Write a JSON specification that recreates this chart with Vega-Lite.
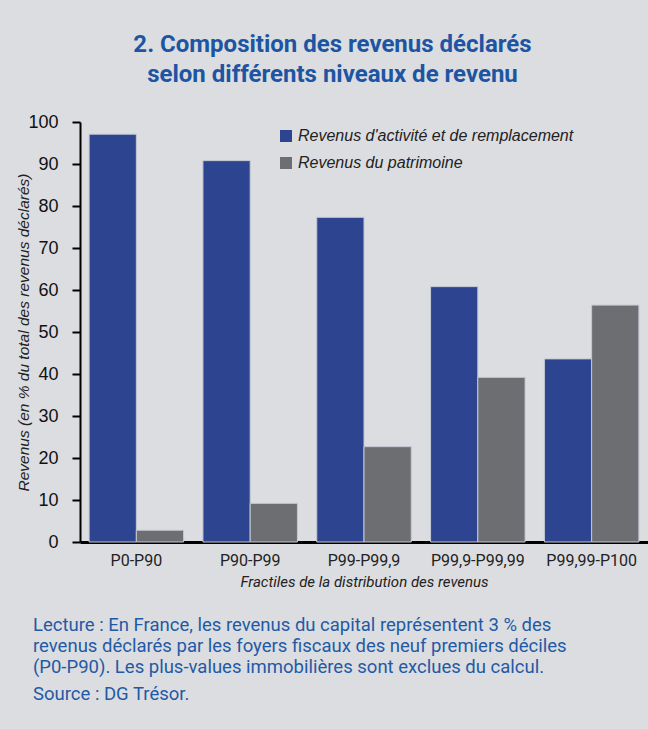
{
  "$schema": "https://vega.github.io/schema/vega-lite/v6.json",
  "background": "#dcdde0",
  "padding": {"left": 16, "top": 33, "right": 0, "bottom": 27},
  "title": {
    "text": ["2. Composition des revenus déclarés", "selon différents niveaux de revenu"],
    "anchor": "middle",
    "frame": "bounds",
    "font": "Roboto",
    "fontSize": 24,
    "fontWeight": "bold",
    "color": "#1d55a3",
    "lineHeight": 30,
    "offset": 26
  },
  "config": {"view": {"stroke": null}},
  "vconcat": [
    {
      "width": 568,
      "height": 420,
      "data": {
        "values": [
          {"fractile": "P0-P90", "type": "Revenus d'activité et de remplacement", "value": 97.1},
          {"fractile": "P0-P90", "type": "Revenus du patrimoine", "value": 2.8},
          {"fractile": "P90-P99", "type": "Revenus d'activité et de remplacement", "value": 90.8},
          {"fractile": "P90-P99", "type": "Revenus du patrimoine", "value": 9.2},
          {"fractile": "P99-P99,9", "type": "Revenus d'activité et de remplacement", "value": 77.3},
          {"fractile": "P99-P99,9", "type": "Revenus du patrimoine", "value": 22.7},
          {"fractile": "P99,9-P99,99", "type": "Revenus d'activité et de remplacement", "value": 60.8},
          {"fractile": "P99,9-P99,99", "type": "Revenus du patrimoine", "value": 39.2},
          {"fractile": "P99,99-P100", "type": "Revenus d'activité et de remplacement", "value": 43.6},
          {"fractile": "P99,99-P100", "type": "Revenus du patrimoine", "value": 56.4}
        ]
      },
      "title": {
        "text": [
          "Lecture : En France, les revenus du capital représentent 3 % des",
          "revenus déclarés par les foyers fiscaux des neuf premiers déciles",
          "(P0-P90). Les plus-values immobilières sont exclues du calcul."
        ],
        "subtitle": "Source : DG Trésor.",
        "orient": "bottom",
        "anchor": "start",
        "frame": "bounds",
        "font": "Roboto",
        "fontSize": 18.5,
        "fontWeight": "normal",
        "color": "#1f5aa6",
        "lineHeight": 21,
        "subtitleFont": "Roboto",
        "subtitleFontSize": 18.5,
        "subtitleColor": "#1f5aa6",
        "subtitlePadding": 8,
        "offset": 27,
        "dx": 16
      },
      "mark": {"type": "bar", "stroke": "#c4c8d4", "strokeWidth": 1},
      "encoding": {
        "x": {
          "field": "fractile",
          "type": "nominal",
          "sort": null,
          "scale": {"paddingInner": 0.17, "paddingOuter": 0.08},
          "axis": {
            "title": "Fractiles de la distribution des revenus",
            "titleFont": "Roboto",
            "titleFontSize": 15,
            "titleFontStyle": "italic",
            "titleFontWeight": "normal",
            "titleColor": "#222222",
            "titlePadding": 6,
            "labelFont": "Roboto",
            "labelFontSize": 16,
            "labelColor": "#222222",
            "labelAngle": 0,
            "labelPadding": 10,
            "ticks": false,
            "domainColor": "#000000",
            "domainWidth": 3
          }
        },
        "xOffset": {
          "field": "type",
          "type": "nominal",
          "sort": ["Revenus d'activité et de remplacement", "Revenus du patrimoine"]
        },
        "y": {
          "field": "value",
          "type": "quantitative",
          "scale": {"domain": [0, 100]},
          "axis": {
            "title": "Revenus (en % du total des revenus déclarés)",
            "titleFont": "Liberation Sans",
            "titleFontSize": 15.5,
            "titleFontStyle": "italic",
            "titleFontWeight": "normal",
            "titleColor": "#222222",
            "titlePadding": -4,
            "values": [0, 10, 20, 30, 40, 50, 60, 70, 80, 90, 100],
            "labelFont": "Liberation Sans",
            "labelFontSize": 18,
            "labelColor": "#111111",
            "labelPadding": 14,
            "grid": false,
            "tickSize": 8,
            "tickWidth": 2,
            "tickColor": "#000000",
            "domainColor": "#000000",
            "domainWidth": 2
          }
        },
        "color": {
          "field": "type",
          "type": "nominal",
          "sort": ["Revenus d'activité et de remplacement", "Revenus du patrimoine"],
          "scale": {"range": ["#2d4590", "#6d6e72"]},
          "legend": {
            "title": null,
            "orient": "none",
            "legendX": 198,
            "legendY": 6,
            "symbolType": "square",
            "symbolSize": 144,
            "symbolStrokeWidth": 0,
            "labelFont": "Liberation Sans",
            "labelFontSize": 16,
            "labelFontStyle": "italic",
            "labelColor": "#222222",
            "labelOffset": 4,
            "labelLimit": 0,
            "rowPadding": 11,
            "padding": 0
          }
        }
      }
    }
  ]
}
